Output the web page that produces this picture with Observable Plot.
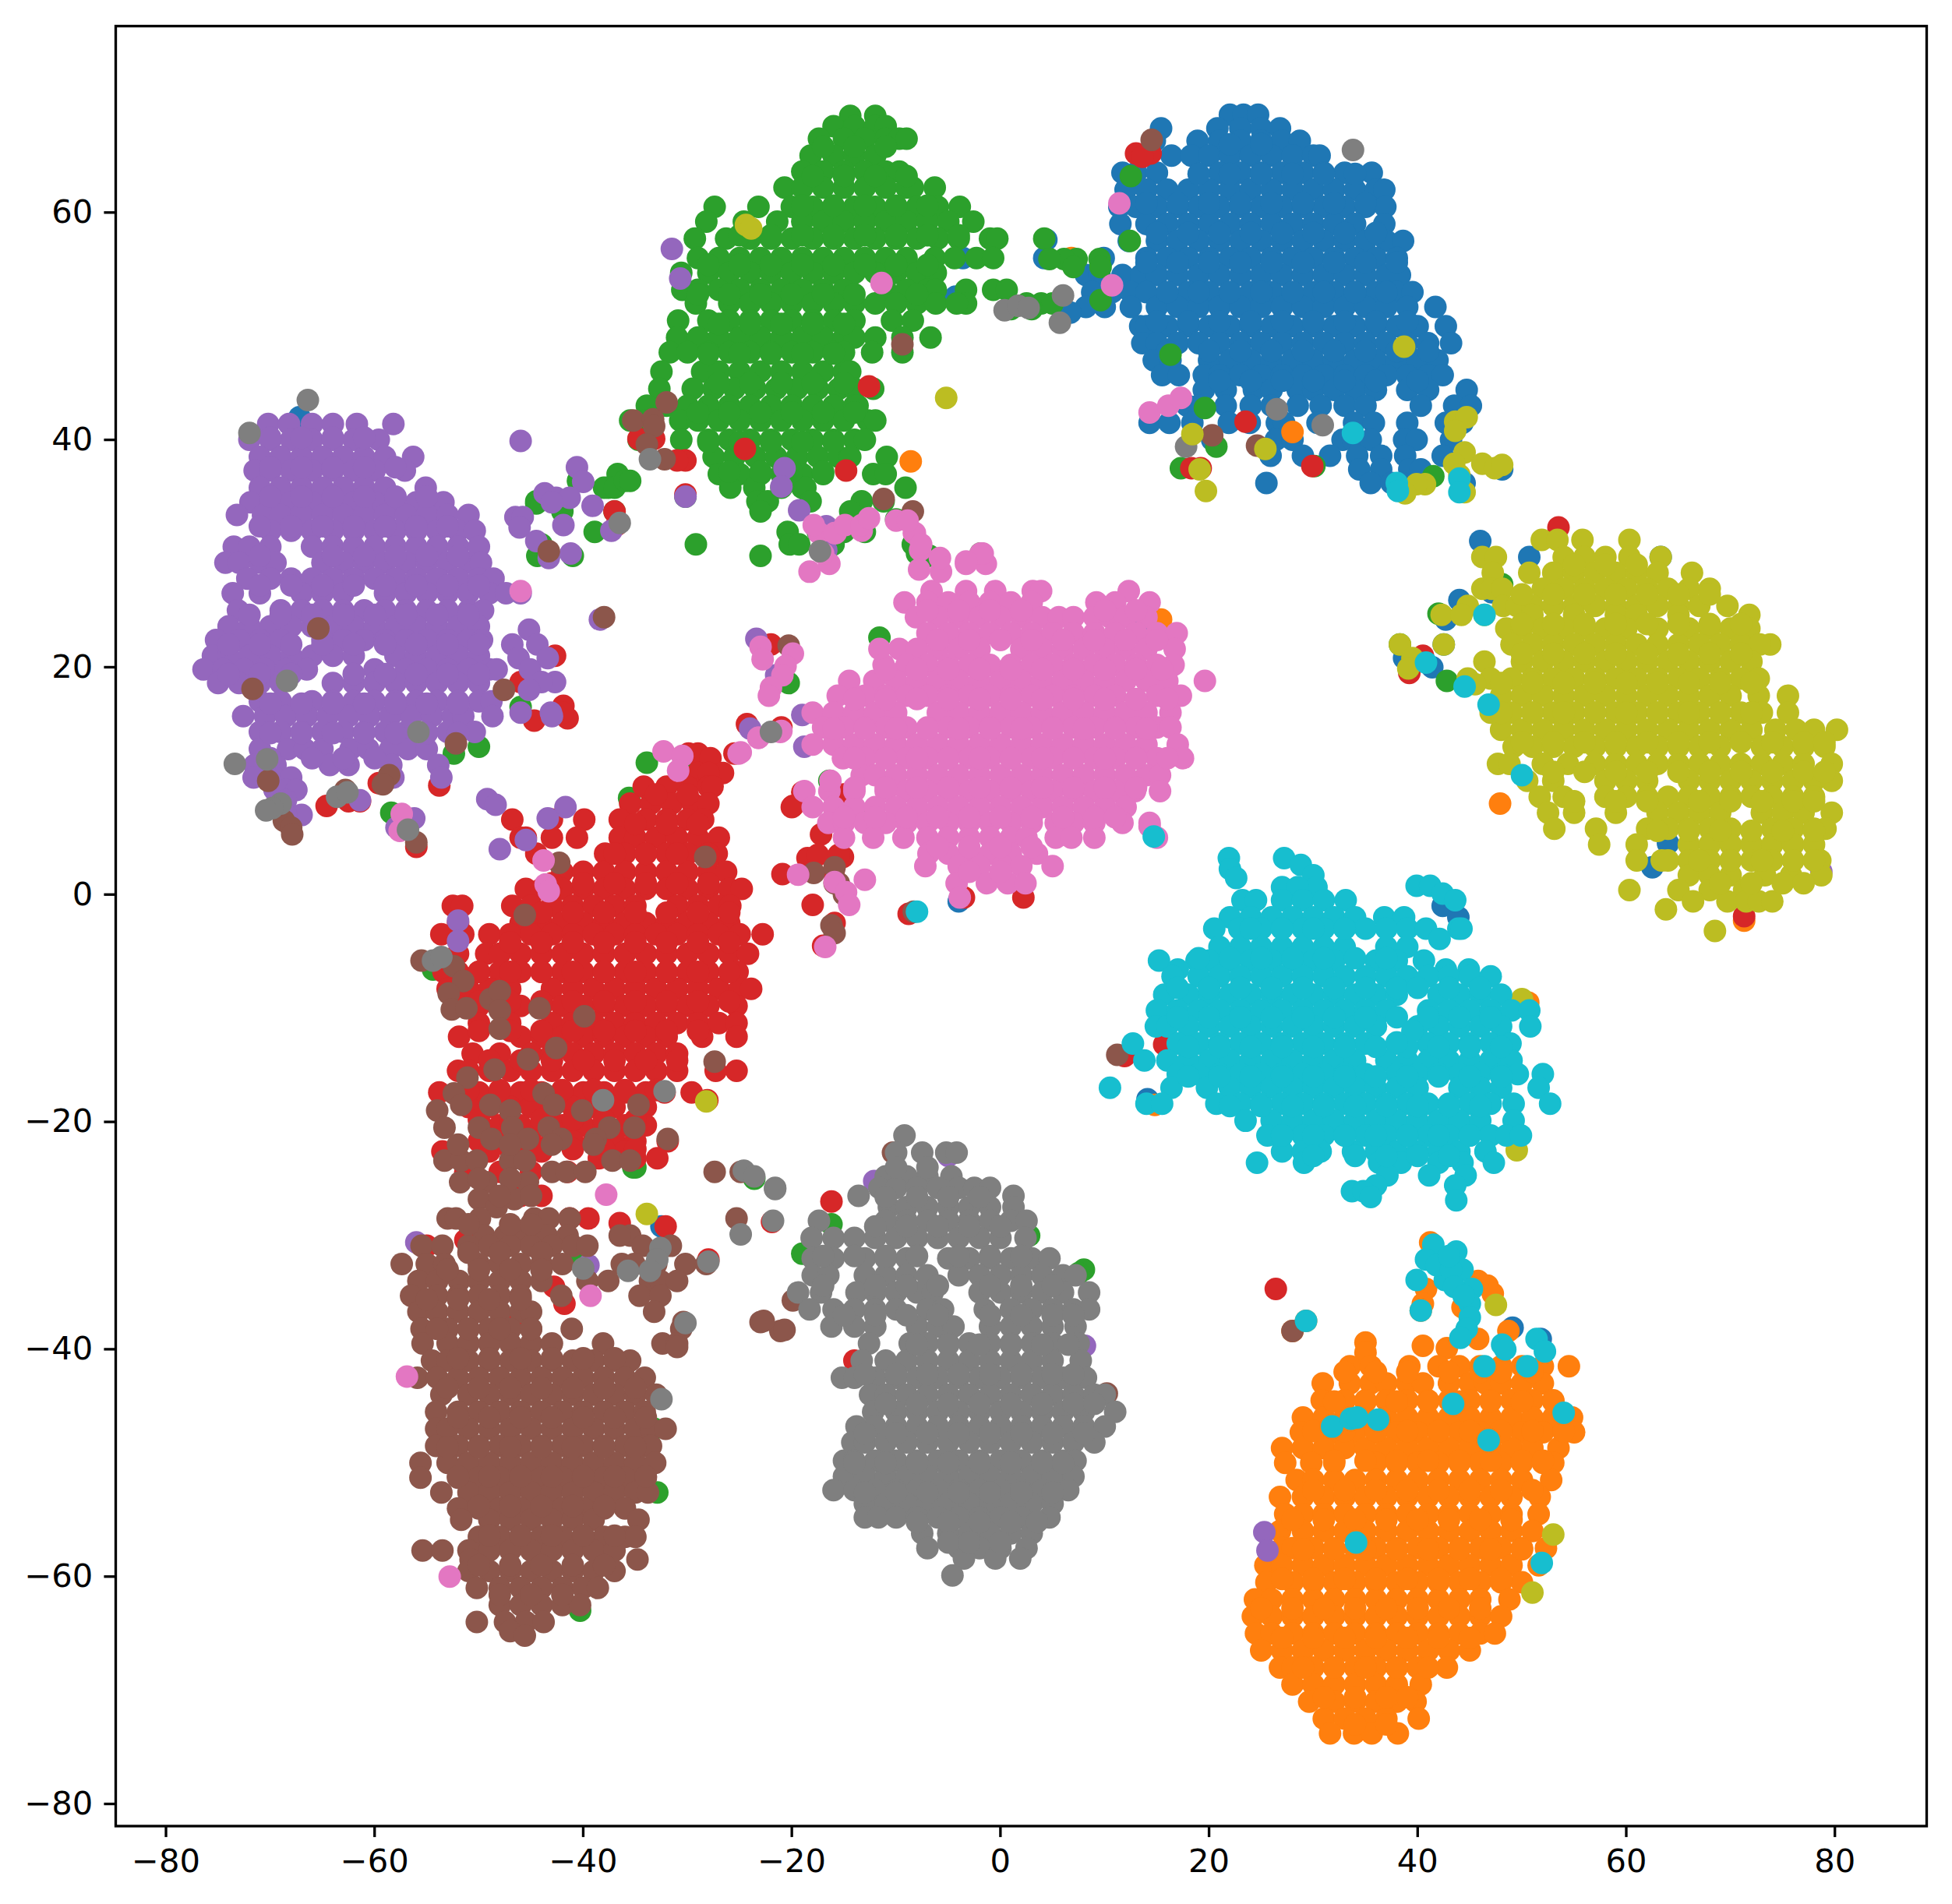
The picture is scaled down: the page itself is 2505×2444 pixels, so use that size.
<!DOCTYPE html>
<html>
<head>
<meta charset="utf-8">
<script src="https://cdn.jsdelivr.net/npm/d3@7"></script>
<script src="https://cdn.jsdelivr.net/npm/@observablehq/plot@0.6"></script>
<style>html,body{margin:0;padding:0;background:#fff}svg{display:block}</style>
</head>
<body>
<div id="chart"></div>
<script>
const classNames = ["c0","c1","c2","c3","c4","c5","c6","c7","c8","c9"];
const tab10 = ["#1f77b4","#ff7f0e","#2ca02c","#d62728","#9467bd","#8c564b","#e377c2","#7f7f7f","#bcbd22","#17becf"];
const xTicks = [-80,-60,-40,-20,0,20,40,60,80];
const yTicks = [-80,-60,-40,-20,0,20,40,60];

// rows: [y, [x, x, ...]]
const c0Rows = [
[68.6,[22,23.3,24.7]],
[67.4,[15.4,20.8,23,25,26.8]],
[66.3,[14.8,18.9,21,23,25,27,28.7]],
[65,[16.4,18.3,20,22,24,26,28,30,30.6]],
[63.5,[11.7,13,15,21,23,25,27,29,31,33,35.6]],
[62,[12,14,16,18,20,22,24,26,28,30,32,34,36,36.8]],
[60.5,[11.4,13,15,17,19,21,23,25,27,29,31,33,35,36.9]],
[59,[11.5,14,16,18,20,22,24,26,28,30,32,34,36.8]],
[57.5,[12.3,15,17,19,21,23,25,27,29,31,33,35,37,38.6]],
[56,[9.9,14,16,18,20,22,24,26,28,30,32,34,36,38]],
[54.5,[8.2,9.5,11.7,13.5,15,17,19,21,23,25,27,29,31,33,35,37,38.3]],
[53,[8.8,10.7,12.5,14,18,20,22,24,26,28,30,32,34,36,38,39.5]],
[51.7,[8.2,10,12.5,15,17,19,21,23,25,27,29,31,33,35,37,39,41.7]],
[50,[13.4,14,16,18,20,22,24,26,28,30,32,34,36,38,40,42.7]],
[48.5,[13.6,15,17,19,21,23,25,27,29,31,33,35,37,39,41,43.2]],
[47,[14.7,16.3,20,22,24,26,28,30,32,34,36,38,40,41.9]],
[45.7,[15.5,17.1,19.5,21,23,25,27,29,31,33,35,37,39,41,42.4]],
[44.4,[19.5,21.6,24.3,26,28.5,30,32,34,36,39,41,44.7]],
[43,[17.9,19,21.6,24,26,28.5,30.7,33,35,40.3,43.5,45.1]],
[41.5,[14.3,16.2,18.4,21.9,23.9,26.5,27.2,30.4,33.9,35.8,39,42.7,44.3]],
[40,[20.3,26.4,28,32.8,33.8,35.5,38.7,39.9,43.2]],
[38.6,[25.9,29,31.6,34.2,36.5,38.8,42.4]],
[37.4,[34.4,36.5,39.2,40.3,48.1]],
[36.2,[25.5,35.5,37.5,38.5,44.5]],
[31.1,[46]],[29.7,[50.7,63.3]],[26.6,[47.1]],[25.9,[44]],[24.2,[42.7]],[20.8,[38.7]],[20,[41.4]],[22,[42.5]],
[18.5,[44.6]],[2.4,[62.5]],[4.5,[64]],[-1,[42.4]],[-2,[43.9]],[-0.6,[-4]],[-18,[14.1]],[-38.1,[49.1]],[-39.1,[51.8]],
[-22.6,[-35.5]],[-29.2,[-32.5]],[42,[-67.2]],[23.5,[13.5]],[56,[-3.6,4.2]],[52.6,[-4.3]],[51.2,[6.7]],[57.6,[4.4]]
];
const c0Fill = [
[66,[22,25]],[63.4,[19,22,25,28,31,34]],[60.8,[14,17,20,23,26,29,32,35]],[58.2,[15,18,21,24,27,30,33,36]],
[55.6,[14,17,20,23,26,29,32,35,38]],[53,[16,19,22,25,28,31,34,37]],[50.4,[15,18,21,24,27,30,33,36,39]],
[47.8,[16,20,23,26,29,32,35,38,41]],[45.2,[21,24,27,30,33,36,40]]
];
const c1Rows = [
[-30.6,[41.2]],[-34.7,[40.8]],[-34.4,[46.7]],[-35.1,[47.2]],[-34,[45.8]],[-36.3,[44.3]],[-36.6,[40.3]],[-36,[40.5]],
[-38.4,[28,48.7]],[-37.5,[29.3]],[-39.1,[45.8]],[-39.4,[35]],[-39.7,[40.5]],[-39.9,[42.8]],[-40.3,[35]],
[-41.5,[33.5,35.5,39.2,42,44,46,48,50,52,54.5]],
[-43,[30.9,33.5,35.5,37,39,40.5,43,45,46.5,48,50,52]],
[-44.5,[30.8,33,35,37,39,41,43,45,47,49,51,53]],
[-46,[29,31,33,35,37,39,41,43,45,47,49,51,53,54.8]],
[-47.3,[28.8,30.9,32,34,36,38,40,42,44,46,48,50,52,54,55]],
[-48.7,[27,29,31,33,35,37,39,41,43,45,47,49,51,53.5]],
[-50,[27.3,29.8,32,36,38,40,42,44,46,48,50,52,53]],
[-51.5,[28.4,30,32,34,36,38,40,42,44,46,48,50,52.8]],
[-53,[26.8,29,31,33,35,37,39,41,43,45,47,49,51.7]],
[-54.5,[27.3,29,31,33,35,37,39,41,43,45,47,49,51.6]],
[-56,[26.8,29,31,33,35,37,39,41,43,45,47,49,51]],
[-57.5,[27,28,30,32,34,36,38,40,42,44,46,48,50,52.3]],
[-59,[25.4,27,29,31,33,35,37,39,41,43,45,47,49,51.6]],
[-60.5,[25.5,28,30,32,34,36,38,40,42,44,46,48,50]],
[-62,[24.4,26,28,30,32,34,36,38,40,42,44,46,48.8]],
[-63.5,[24.2,26,28,30,32,34,36,38,40,42,44,46,48]],
[-65,[24.5,26,28,30,32,34,36,38,40,42,44,46,47.4]],
[-66.5,[25,27,29,31,33,35,37,39,41,43,45]],
[-68,[26.8,28,30,32,34,36,38,40,42.8]],
[-69.5,[28,30,32,34,36,38,40.3]],
[-71,[29.6,32,34,36,38,39.8]],
[-72.5,[31,33,35,37,40.1]],
[-73.8,[31.6,33.9,35.6,38.1]],
[24.2,[15.4]],[8,[47.9]],[-2.3,[71.3]],[-18.5,[14.8]],[40.7,[28]],[38.1,[-8.6]],[56,[6.8]],[-9.5,[50.6]]
];
const c1Fill = [
[-42,[33,36,39,43,46,48,51]],[-44.6,[32,35,38,41,44,47,50,53]],[-47.2,[30,33,36,39,42,45,48,51,54]],
[-49.8,[32,35,38,41,44,47,50,52]],[-52.4,[30,33,36,39,42,45,48,51]],[-55,[28,31,34,37,40,43,46,49]],
[-57.6,[29,32,35,38,41,44,47,50]],[-60.2,[27,30,33,36,39,42,45,48]],[-62.8,[25,28,31,34,37,40,43,46]],
[-65.4,[27,30,33,36,39,42,45]],[-68,[29,32,35,38,41]],[-70.6,[31,34,37,39]],[-73,[34,37]]
];
const c2Rows = [
[68.5,[-14.4,-12]],
[67.6,[-16,-14,-12,-11]],
[66.5,[-17.4,-15,-13,-11,-9.7,-9]],
[65,[-18.2,-16,-14,-12]],
[63.6,[-19,-17,-15,-13,-11,-9.7]],
[62.2,[-20.7,-19,-17,-15,-13,-11,-9,-8.4,-6.3]],
[60.5,[-27.4,-23.2,-20,-18,-16,-14,-12,-10,-8,-6,-3.9]],
[59.2,[-28.2,-24.6,-21.4,-19,-17,-15,-13,-11,-9,-7,-5,-2.6]],
[57.7,[-29.3,-26.3,-24,-22,-20,-18,-16,-14,-12,-10,-8,-6,-4,-1,-0.3,4.2]],
[56,[-29,-27,-25,-23,-21,-19,-17,-15,-13,-11,-9,-6.3,-4.4,-2.3,-0.7]],
[54.7,[-30.6,-28,-26,-24,-22,-20,-18,-16,-14,-12,-10,-8,-6.2]],
[53.2,[-30.5,-29,-27,-25,-23,-21,-19,-17,-15,-11,-9,-7,-6.2,-3.3,-0.7,0.6]],
[52,[-29.2,-26,-24,-22,-20,-18,-16,-14,-12,-10,-8,-6.2,-3.3,-4.2,3.9,2.5,5]],
[50.5,[-30.9,-28,-26,-24,-22,-20,-18,-16,-14,-10.4,-8.4]],
[49,[-31,-29,-27,-25,-23,-21,-19,-17,-15,-14,-12,-9.4,-6.7]],
[47.7,[-31.7,-30,-28,-26,-24,-22,-20,-18,-16,-15,-12.3,-9.4]],
[46,[-32.5,-28.6,-27,-25,-23,-21,-19,-17,-15,-14.4]],
[44.5,[-32.7,-29.5,-27.5,-25.5,-23.5,-21.5,-19.5,-17.5,-15.5,-14,-12.2]],
[43,[-33.9,-32,-30,-28,-26,-24,-22,-20,-18,-16,-14,-13.7]],
[41.7,[-35.5,-34,-30.7,-29,-27,-25,-23,-21,-19,-17,-15,-12.7,-12]],
[40,[-34.7,-30.6,-28,-26,-24,-22,-20,-18,-16,-14,-13]],
[38.5,[-27.5,-25.5,-23.5,-21.5,-19.5,-17.5,-15.5,-14.4,-10.9]],
[37,[-27,-25,-23,-21,-19,-17,-12.2,-11,-36.7]],
[35.8,[-37.6,-25.9,-23.6,-21,-19,-18.7,-9.1,-38,-37]],
[36.4,[-36,-35.5,-40.5]],
[34.6,[-23.3,-22.3,-18.2,-13.3,-11.2,-44.5]],
[33.7,[-23,-14.4,-37,-42]],
[33,[-10,-46]],
[31.9,[-20.4,-13,-38.9,-17.5,-15]],
[30.8,[-20.2,-19.3,-29.2,-44,-16,-8.4]],
[29.8,[-44.4,-43.3,-41,-23,-6.8]],
[30,[-1.9,-8]],
[34.4,[-44.5]],[30.5,[-16.5]],[35,[-30.2]],
[63.2,[12.5]],[57.5,[12.4]],[47.5,[16.3]],[42.8,[19.6]],[39.4,[20.7]],[37.7,[30.1]],[36.8,[41.5]],[37.5,[17.3]],
[55.9,[9.5,7.3,6.1,4.7]],[55.2,[9.6,7]],[52.3,[9.6]],[51.5,[1,3]],
[27.3,[48.1]],[22,[38.3]],[24.7,[42]],[18.8,[42.8]],
[-33,[8]],[-30,[2.75]],[-31.6,[-19]],[-29,[-16.2]],[-33.3,[7.5]],
[-24,[-35.2]],[-25,[-23.6]],[-32,[-40.8]],[-52.6,[-32.9]],[-63,[-40.3]],[-47,[-33.2]],
[22.6,[-11.6]],[10,[-16.4]],[18.6,[-20.3]],[7,[-12.3]],
[11.6,[-33.9]],[8.5,[-35.6]],[11.5,[-30]],[4,[-28.5]],[10,[-28]],[-6.6,[-54.4]],
[12.4,[-52.4]],[13,[-50]],[16.5,[-46]],[9.7,[-68]],[7.2,[-58.4]],[-24,[-35]]
];
const c2Fill = [
[65.8,[-17,-14,-11]],[63.2,[-18,-15,-12,-9]],[60.6,[-19,-16,-13,-10,-7]],[58,[-25,-22,-19,-16,-13,-10,-7,-4]],
[55.4,[-28,-25,-22,-19,-16,-13,-10,-7]],[52.8,[-29,-26,-23,-20,-17,-14,-8]],[50.2,[-27,-24,-21,-18,-15]],
[47.6,[-28,-25,-22,-19,-16]],[45,[-27,-24,-21,-18,-15]],[42.4,[-29,-26,-23,-20,-17,-14]],
[39.8,[-28,-25,-22,-19,-16]],[37.2,[-26,-23,-20,-17]]
];
const c3Rows = [
[12.4,[-29.9,-29,-25.5]],[12,[-27.8]],
[10.7,[-29,-26.6,-28]],
[9.5,[-34.2,-32,-30,-28,-27.6]],
[8,[-35.5,-33.5,-31.5,-29.5,-28]],
[6.6,[-39.9,-36.5,-34,-32,-30,-28.5,-43,-46.8]],
[5,[-43,-46,-40.6,-36.5,-35,-33,-31,-29,-27,-45.5]],
[3.6,[-44.5,-37.9,-36,-34,-32,-30,-28,-27.2]],
[2,[-42,-40,-38,-36,-34,-32,-30,-28,-26.3]],
[0.5,[-45.5,-44,-42,-40,-38,-36,-34,-32,-30,-28,-26,-24.8]],
[-1,[-52.5,-51.6,-46.8,-45,-43,-41,-39,-37,-35,-31,-29,-27,-25.9]],
[-2.5,[-52,-46,-44,-42,-40,-38,-36,-34,-32,-30,-28,-26]],
[-3.5,[-53.6,-51.5,-49,-47,-45,-43,-41,-39,-37,-35,-33,-31,-29,-27,-25,-22.8]],
[-5.2,[-49.3,-48,-46,-44,-42,-40,-38,-36,-34,-32,-30,-28,-26,-24.2,-52]],
[-6.8,[-53.4,-52,-50,-48,-46,-44,-42,-40,-38,-36,-34,-32,-30,-28,-25.2]],
[-8.3,[-53,-51,-49,-47,-43,-41,-39,-37,-35,-33,-31,-29,-27,-25,-23.9]],
[-9.8,[-52,-50,-48,-46,-44,-42,-40,-38,-36,-34,-32,-30,-28,-25.3]],
[-11.3,[-50,-47,-43,-41,-39,-37,-35,-33,-31,-29,-27,-25.3]],
[-12.5,[-51.9,-46,-44,-42,-40,-38,-36,-34,-32,-28.6,-25.3]],
[-14,[-50.6,-48,-45,-43,-41,-39,-37,-35,-33,-31]],
[-15.5,[-52,-51,-49,-47,-45,-43,-41,-39,-37,-35,-33,-31,-25.3,-27.3]],
[-17.4,[-53.8,-50,-48,-46,-44,-42,-40,-38,-36,-34,-32.2,-29.6]],
[-18.7,[-51,-49,-47,-45,-43,-41,-39,-37,-34]],
[-20.3,[-48,-46,-44,-42,-40,-38,-36,-34]],
[-21.7,[-50,-47,-45,-43,-41,-39,-37,-35,-31.9]],
[-22.6,[-53.5,-49,-46,-44,-38,-36]],
[-23.2,[-32.9,-35,-38.5]],
[-24.4,[-51.3,-48,-45,-41.5]],
[-26.5,[-44,-46]],[-28.5,[-41.3,-39.5]],[-28.9,[-36.5]],[-29.2,[-32.1]],[-30.4,[-51.3,-47,-44]],
[-30.9,[-55]],[-37.6,[-46.7]],[-36,[-41.8]],[-34.5,[-42.8]],[-18.1,[-28.1]],[-32.1,[-28]],
[-27,[-16.2]],[-28.8,[-21.9]],[-41,[-14]],[-34.7,[26.4]],
[65.2,[13,14.4]],[64.9,[13.6]],[41.6,[23.5]],[37.7,[29.9]],[37.5,[18.3,19.2]],
[44.7,[-12.6]],[39.2,[-24.5]],[37.3,[-14.8]],[40.1,[-34.7,-33.2]],[38.2,[-30.2,-31]],[35.2,[-30.2]],[33.7,[-37]],
[32.3,[53.5]],[19.5,[39.2]],[21,[40.5]],[-1.9,[71.3]],
[7.8,[-64.6]],[8.2,[-61.4,-62.5]],[9.6,[-53.8]],[18.7,[-46]],[21,[-42.7]],[15.3,[-44.7]],[16.6,[-41.9]],[15.5,[-41.5]],[9.8,[-59.6]],[16,[-42]],[4.2,[-56]],
[7.7,[-20]],[5.3,[-17.2]],[9,[-19]],[8.8,[-15]],[-0.25,[2.2,-3.5]],[7.8,[-19.9]],
[1.8,[-20.9]],[3.2,[-18.5]],[3.3,[-15.1]],[2,[-18,-16]],[-0.9,[-18]],[-2.5,[-15.9]],[-4.5,[-17]],[3.5,[-17.5,-15.5]],
[-13.2,[15.7]],[-14.2,[11.9]],[-1.7,[-8.8]],
[32.5,[-36.8]],[15,[-24.3]],[14.7,[-21]],[22,[-22]]
];
const c3Fill = [
[8.8,[-33,-30]],[6.2,[-35,-32,-29]],[3.6,[-37,-34,-31,-28]],[1,[-43,-40,-37,-34,-31,-28]],
[-1.6,[-44,-41,-38,-35,-32,-29,-26]],[-4.2,[-47,-44,-41,-38,-35,-32,-29,-26]],
[-6.8,[-50,-47,-44,-41,-38,-35,-32,-29,-26]],[-9.4,[-50,-47,-44,-41,-38,-35,-32,-29,-26]],
[-12,[-50,-47,-44,-41,-38,-35,-32,-29]],[-14.6,[-49,-46,-43,-40,-37,-34,-31]],
[-17.2,[-51,-48,-45,-42,-39,-36,-33]],[-19.8,[-50,-47,-44,-41,-38,-35]],[-22.4,[-47,-44,-41,-38,-35]]
];
const c4Rows = [
[41.4,[-70.2,-68.2,-66,-64,-61.7,-58.2]],
[40,[-72,-70,-68,-66,-64,-62,-59.6]],
[38.5,[-71,-69,-67,-65,-63,-61,-59,-56.3]],
[37.3,[-71.5,-70,-68,-66,-64,-62,-60,-57.1]],
[35.8,[-71,-69,-67,-65,-63,-61,-59,-55.1]],
[34.5,[-71.9,-70,-68,-66,-64,-62,-60,-58,-56,-53.4]],
[33.4,[-73.2,-70.7,-69,-67,-65,-63,-61,-59,-57,-55,-53,-51]],
[32,[-70,-68,-66,-64,-62,-60,-58,-56,-54,-52,-50.4]],
[30.6,[-73.5,-72,-70,-66,-64,-62,-60,-58,-56,-54,-52,-50]],
[29.2,[-74.3,-73,-71,-69.5,-65,-63,-61,-59,-57,-55,-53,-51,-49.8]],
[27.8,[-72.2,-70,-68,-66,-64,-62,-60,-58,-56,-54,-52,-50,-48.6]],
[26.5,[-73.6,-71,-67,-65,-63,-59,-57,-55,-53,-51,-49,-47.4,-46]],
[25,[-73.1,-69,-67,-65,-63,-61,-59,-57,-55,-53,-51,-49.6]],
[23.6,[-74,-72,-70,-68,-66,-64,-62,-60,-58,-56,-54,-52,-50]],
[22.4,[-75.2,-73,-71,-69,-65,-63,-61,-59,-57,-55,-53,-51,-49.7]],
[21,[-75.5,-74,-72,-70,-68,-66,-64,-62,-58,-56,-54,-52,-50]],
[19.8,[-76.4,-74.5,-72.5,-70.5,-68.5,-66.5,-60,-57,-55,-53,-51,-49,-48.3]],
[18.6,[-75,-73,-71,-69,-64,-62,-60,-58,-56,-54,-52,-50]],
[17,[-71,-69,-66,-64,-62,-60,-58,-56,-54,-52,-50,-48.8]],
[15.7,[-72.6,-70.5,-68.5,-66.5,-64.5,-62.5,-60.5,-58.5,-56.5,-54.5,-52.5,-51.5,-48.7]],
[14.3,[-71,-69,-67,-65,-63,-61,-59,-57,-55,-53,-50.4]],
[12.8,[-71,-68.3,-66.7,-65,-62.3,-60.6,-58.5,-56.8,-55]],
[11.4,[-71.5,-69.5,-64.3,-62.5,-58.4,-53.9]],
[10.3,[-71.6,-69.6,-68,-53.6,-58.2]],
[9.2,[-69.6,-68.5,-67.5]],
[8.3,[-68.5,-61.4]],
[7,[-67,-68.5]],
[39.9,[-46]],[37.6,[-40.6]],[36.3,[-40]],[35.3,[-43.7]],[34.9,[-42.6,-41.3]],[34.2,[-39.1]],[33.2,[-46.5,-45.8]],[32.3,[-46.1]],
[32.5,[-41.9]],[31.1,[-44.5]],[29.6,[-43.3]],[30,[-41.2]],[34.5,[-43]],
[24.2,[-38.4]],[32,[-37.3]],
[23.3,[-45.2]],[22,[-46.8,-44.4]],[20.8,[-46.2,-43.4]],[19.8,[-45.1]],[18.7,[-42.7,-44]],[18,[-45.2]],[16,[-46,-43.1]],[15.7,[-43]],
[56.8,[-31.5]],[54.2,[-30.7]],[35,[-30.2]],[37.5,[-20.7]],[35.9,[-21]],[33.8,[-19.3]],[32.4,[-16.7]],[30.3,[-16.7]],
[8.4,[-49.2]],[7.9,[-48.4]],[7.7,[-41.7]],[6.7,[-43.4]],[4.8,[-45.5]],[4,[-48]],[-2.3,[-52]],[-4.1,[-52]],
[14.6,[-24]],[15.8,[-19]],[13,[-18.8]],[22.5,[-23.4]],[19.3,[-21.5]],
[6.7,[-56.2]],[5.9,[-57.9]],[-25.2,[-12.1]],[-23,[-5]],[-56.1,[25.3]],[-57.7,[25.6]],[-30.6,[-56]],[-32.6,[-39.5]],[-39.7,[8.1]],[2,[78.7]]
];
const c4Fill = [
[40.2,[-70,-67,-64,-61]],[37.6,[-70,-67,-64,-61,-58]],[35,[-70,-67,-64,-61,-58,-55]],
[32.4,[-71,-68,-65,-62,-59,-56,-53]],[29.8,[-71,-64,-61,-58,-55,-52]],[27.2,[-71,-68,-65,-62,-59,-56,-53,-50]],
[24.6,[-72,-69,-66,-63,-60,-57,-54,-51]],[22,[-74,-71,-68,-65,-62,-59,-56,-53,-50]],
[19.4,[-74,-71,-68,-62,-59,-56,-53,-50]],[16.8,[-70,-67,-64,-61,-58,-55,-52]],[14.2,[-70,-67,-64,-61,-58,-55,-52]],
[12,[-70,-66,-63,-60]]
];
const c5Rows = [
[-13.5,[-42.6]],[-14.5,[-45.3]],[-15.4,[-48.5]],[-16.1,[-51.1]],[-14.7,[-27.4]],
[-17.5,[-43.8,-52.4]],[-18.5,[-51.7,-48.9,-42.8,-34.7]],[-19,[-54,-47,-40.1]],
[-20.5,[-43.3,-37.5,-35.1,-53.3,-50,-46.8]],[-21.5,[-48.8,-45.3,-42.1,-38.8,-31.9]],
[-23.4,[-53.3,-51.7,-50.2,-47,-45.6,-37.2,-35.5]],[-24.4,[-43,-41.6,-39.8,-27.4,-24.9]],
[-25.3,[-49.3,-51.8,-45.3]],[-26.8,[-50,-46.6]],[-27.5,[-48.3]],
[-28.5,[-53,-52.2,-49.9,-44.7,-43.3,-41.3,-25.3]],
[-30,[-49.5,-47.5,-45.5,-35.5,-36.5,-43.5,-41.5]],
[-30.9,[-55.5,-53.5,-51,-49,-47,-45,-43,-41,-39.6,-34.3,-31.6]],
[-32.5,[-57.4,-55,-53.3,-50,-48,-46,-44,-42,-36.3,-35.1,-33,-30.2,-28.2]],
[-34,[-55.8,-54,-51.9,-50,-48,-46,-44,-39.6,-37.6,-33.6,-32.6,-31]],
[-35.3,[-56.5,-54,-52,-50,-48,-46,-42.1,-34.6,-32.6]],
[-36.7,[-55.8,-54,-52,-50,-48,-46,-45,-33.2]],
[-38.2,[-55.5,-53,-51,-49,-47,-45,-41.1,-30.6]],
[-39.5,[-55.4,-53,-51,-49,-47,-45,-43,-32.4,-31,-38.1]],
[-41,[-54.5,-53,-51,-49,-47,-45,-43,-41,-39,-37,-35.5]],
[-42.5,[-55.9,-54,-52,-50,-48,-46,-44,-42,-40,-38,-36,-34.1]],
[-44,[-53.6,-51,-49,-47,-45,-43,-41,-39,-37,-35,-33]],
[-45.5,[-54.1,-52,-50,-48,-46,-44,-42,-40,-38,-36,-34.1]],
[-47,[-54.1,-53,-51,-49,-47,-45,-43,-41,-39,-37,-35,-33.5,-32.1]],
[-48.5,[-54.1,-52,-50,-48,-46,-44,-42,-40,-38,-36,-34,-33.5]],
[-50,[-55.6,-53,-51,-49,-47,-45,-43,-41,-39,-37,-35,-33.1]],
[-51.3,[-55.6,-52,-50,-48,-46,-44,-42,-40,-38,-36,-34]],
[-52.6,[-53.6,-51,-49,-47,-45,-43,-41,-39,-37,-35,-33.8]],
[-54,[-52,-50,-48,-46,-44,-42,-40,-38,-36]],
[-55,[-51.7,-49,-47,-45,-43,-41,-39,-34.7]],
[-56.5,[-50,-48,-46,-44,-42,-40,-38,-36,-35]],
[-57.7,[-55.4,-53.5,-51,-49,-47,-45,-43,-41,-39,-37]],
[-58.5,[-34.8,-50.8]],
[-59.5,[-51,-49,-47,-45,-43,-41,-39,-37]],
[-61,[-50.2,-48,-46,-44,-42,-40,-38.6]],
[-62.5,[-48,-46,-44,-42,-40.3]],
[-64,[-50.2,-47.5,-45.5,-43.8]],
[-64.8,[-47]],[-65.2,[-45.6]],
[-37.6,[-30.4,-23]],[-38.4,[-21.1]],[-39.8,[-31]],
[23.4,[-65.4]],[18.1,[-71.7]],[13.3,[-52.2]],[18,[-47.6]],[30.2,[-43.3]],[24.4,[-38]],[10.5,[-58.6]],[9.7,[-59.2]],[10,[-70.2]],[9.2,[-62.8]],
[6.5,[-68.7]],[5.9,[-68]],[5.3,[-67.9]],[4.6,[-56]],
[66.4,[14.5]],[40.4,[20.3]],[39.5,[24.6]],
[48.4,[-9.4]],[43.3,[-32]],[41.7,[-35.2]],[41.8,[-33.3]],[41.2,[-33.2]],[39.6,[-33.9]],[38.3,[-32.2]],[34.8,[-11.2]],[33.7,[-8.4]],
[3.3,[-28.3]],[2.8,[-42.3]],[-1.8,[-45.6]],[-5.8,[-55.5]],[-6.3,[-52.4]],[-7.6,[-51.5]],[-8.7,[-52.9]],[-10.1,[-52.6]],[-10,[-51.2,-44.2]],[-9.2,[-48.9]],[-8.5,[-48]],[-10.2,[-48]],[-11.8,[-48]],[-10.7,[-39.9]],
[1.9,[-17.9]],[2.4,[-15.9]],[1,[-15.9,-15.5]],[0,[-15]],[21.9,[-20.3]],[-2.7,[-16.2]],[-3.4,[-15.9]],
[-35.7,[-19.9]],[-37.5,[-22.7]],[-38.3,[-20.7]],[-43.9,[10.2]],[-22.7,[-10.3]],[-1.5,[-8.3]],[-14.1,[11.2]],[-38.4,[28]]
];
const c5Fill = [
[-22,[-52,-47,-43,-39]],[-25,[-50,-47]],[-26.5,[-48,-45]],[-29,[-51,-47,-45]],[-31.5,[-51,-48,-44]],
[-33,[-53,-50,-47,-44]],[-35.6,[-55,-52,-49,-46]],[-38.2,[-54,-51,-48,-45]],[-40.8,[-52,-49,-46,-43,-40,-37]],
[-43.4,[-53,-50,-47,-44,-41,-38,-35]],[-46,[-52,-49,-46,-43,-40,-37,-34]],[-48.6,[-53,-50,-47,-44,-41,-38,-35]],
[-51.2,[-52,-49,-46,-43,-40,-37,-34]],[-53.8,[-50,-47,-44,-41,-38]],[-56.4,[-49,-46,-43,-40,-37]],
[-59,[-50,-47,-44,-41,-38]],[-61.6,[-48,-45,-42]]
];
const c6Rows = [
[26.7,[-6.6,-3.3,-0.5,3.1,3.9,12.3]],
[25.7,[-9.2,-7,-5,-3,-1,1,3,9.2,11,14.3]],
[24.4,[-8.1,-6,-4,-2,0,2,4,5.6,7,9,10.5,12,14]],
[23,[-7,-5,-3,-1,1,3,5,7,9,11,13,15,16.9]],
[21.6,[-11.6,-9.7,-8,-6,-4,-2,2,4,6,8,10,12,14,16.7]],
[20.2,[-11.2,-9,-7,-5,-3,-1,1,3,5,7,9,11,13,15,16.6]],
[18.8,[-14.5,-12.1,-10,-8,-6,-4,-2,0,2,4,6,8,10,12,14,16,19.6]],
[17.5,[-15.6,-13,-11,-9,-7,-5,-3,-1,1,3,5,7,9,11,15,17.3]],
[16,[-18,-16,-14,-12,-10,-6,-4,-2,0,2,4,6,8,10,12,14,16.3]],
[14.7,[-17,-15,-13,-11,-9,-7,-5,-3,-1,1,3,5,7,9,11,13,15,16.3]],
[13.2,[-18,-16,-14,-12,-10,-8,-6,-4,-2,0,2,4,6,8,10,12,14,17]],
[12,[-15.1,-13,-11,-9,-7,-5,-3,-1,1,3,5,7,9,11,13,15,17.5]],
[10.5,[-13.3,-12,-10,-8,-6,-4,-2,0,2,4,6,8,10,12,14,15.3]],
[9.1,[-18.8,-16.4,-14,-11,-9,-7,-5,-3,-1,1,3,5,7,9,11,12.9,15.3]],
[7.7,[-18,-16,-14,-12,-10,-8,-6,-4,-2,0,2,4,6,8,10,12]],
[6.3,[-16.5,-15,-13,-11,-9,-7,-5,-3,-1,1,3,5.3,7,9,11.7,14.3]],
[5,[-15,-12.2,-9.3,-7,-5,-3,-1,1,2.5,5.3,6.8,9,15]],
[3.6,[-6.9,-5,-3,-1,1,3.5]],
[2.5,[-7.2,-4,-2,0.25,2,5]],
[1,[-4.2,-1.3,0.7,2.4]],[-0.25,[-3.9]],
[28.4,[-18.3,-5.7]],[29.1,[-16.4,-3.3,-1.4]],[30,[-1.7,-17,-1.9]],[31.8,[-15.8,-8.3,-17.4,-15.9,-8.2]],[32,[-13.3]],[30.3,[-7.7]],[28.6,[-7.8]],[29.6,[-5.8]],[29.3,[-3.3]],[30.8,[-7.6]],
[32.5,[-17.9,-14.9,-13.3]],[33.1,[-12.6]],[32.9,[-10,-8.9]],
[21.8,[-23]],[21.2,[-19.9]],[20.7,[-22.8]],[20.1,[-20.6]],[19.3,[-20.9]],[18.2,[-22]],[17.5,[-22.2]],
[14.3,[-21.1]],[13.8,[-23.2]],[12.5,[-24.9]],[1.75,[-19.4]],[1.1,[-15.9]],[0.2,[-14.8]],[-0.9,[-14.5]],[1.3,[-13]],[-4.6,[-16.8]],[6,[14.3]],
[60.8,[11.4]],[53.6,[10.7]],[42.4,[14.3]],[43,[16.1]],[43.7,[17.3]],[53.8,[-11.4]],
[26.7,[-46]],[7.1,[-57.4]],[5.6,[-57.6]],[3,[-43.8]],[0.9,[-43.6]],[0.3,[-43.3]],
[12.6,[-32.3]],[12.2,[-30.5]],[10.9,[-30.9]],[12.4,[-25.1]],[13.8,[-23.2]],[14.4,[-21]],[10,[-16.3]],
[-26.4,[-37.8]],[-35.3,[-39.3]],[-42.4,[-56.9]],[-60,[-52.8]]
];
const c6Fill = [
[25,[-7,-4,-1,2,10,13]],[22.4,[-6,-3,0,3,6,9,12,15]],[19.8,[-11,-8,-5,-2,1,4,7,10,13,15.5]],
[17.2,[-14,-11,-8,-5,-2,1,4,7,10,13,16]],[14.6,[-16,-13,-10,-7,-4,-1,2,5,8,11,14]],
[12,[-14,-11,-8,-5,-2,1,4,7,10,13,16]],[9.4,[-14,-11,-8,-5,-2,1,4,7,10,13]],
[6.8,[-15,-12,-9,-6,-3,0,3,6,9,11]],[4.2,[-6,-3,0,3]],[2,[-3,0]]
];
const c7Rows = [
[-21.2,[-9.2]],
[-22.7,[-10,-7.5,-5.2,-4.2]],
[-24.8,[-11,-9,-7,-4.7]],
[-25.8,[-21.6,-11.6,-10,-8,-6,-4,-2.5,-1]],
[-26.5,[-13.6,1.25]],
[-27.5,[-10.7,-9,-7,-5,-3,-1,1.25]],
[-28.7,[-21.8,-17.4,-11,-9,-7,-5,-3,-1,1,2.5]],
[-30.2,[-18.1,-16,-14,-12,-10,-8,-6,-4,-2,0,2.4]],
[-32,[-18,-16,-13,-11,-9,-5,-3,-1,1,3,4.7]],
[-33.5,[-18,-16.5,-13,-11,-9,-7,-4,-2,0,2,4,6,7.2]],
[-35,[-19.4,-17.2,-13.8,-12,-10,-8,-6.5,-2,0,2,4,6,8.5]],
[-36.5,[-18.3,-16,-14,-12,-10,-7,-5.5,-1.5,1,3,5,7,8.5]],
[-38,[-16.2,-14,-12,-8,-6,-4.5,-1,1,3,5,7.2]],
[-39.5,[-12.6,-8.7,-7,-5,-3,-1,1,3,5,7.5]],
[-41,[-13.3,-11,-9,-7,-5,-3,-1,1,3,5,7.7]],
[-42.5,[-15.2,-14,-12,-10,-8,-6,-4,-2,0,2,4,6,8.2]],
[-44,[-12.5,-11,-9,-7,-5,-3,-1,1,3,5,7,9,10]],
[-45.5,[-12.2,-10,-8,-6,-4,-2,0,2,4,6,8,11]],
[-46.8,[-13.8,-12,-10,-8,-6,-4,-2,0,2,4,6,8,10]],
[-48.2,[-14.2,-13,-11,-9,-7,-5,-3,-1,1,3,5,7,9]],
[-49.8,[-15,-14,-12,-10,-8,-6,-4,-2,0,2,4,6,7.2]],
[-51.2,[-15,-13,-11,-9,-7,-5,-3,-1,1,3,5,7]],
[-52.4,[-16,-14,-12,-10,-8,-6,-4,-2,0,2,4,6.5]],
[-53.6,[-13,-11,-9,-7,-5,-3,-1,1,3,5]],
[-54.8,[-13,-11.7,-10,-8,-6,-4,-2,0,2,4.7]],
[-56.2,[-7.5,-5,-3,-1,1,3]],
[-57.5,[-7,-4,-2,0,2.5]],
[-58.4,[-3.5,-0.5,1.9]],
[-59.9,[-4.6]],
[65.5,[33.8]],[42.7,[26.5]],[41.3,[30.9]],[39.4,[17.8]],
[51.4,[0.4]],[51.8,[1.7]],[51.6,[2.7]],[52.7,[6]],[50.3,[5.7]],[38.3,[-33.6]],[30.2,[-17.3]],[32.7,[-36.5]],
[43.5,[-66.4]],[40.6,[-72]],[18.8,[-68.4]],[11.5,[-73.4]],[11.9,[-70.3]],[14.3,[-55.8]],[8,[-69]],[7.6,[-69.8]],[7.4,[-70.4]],[8.6,[-63.6]],[9,[-62.6]],[5.7,[-56.8]],
[-5.8,[-54.4]],[-5.5,[-53.6]],[-18.1,[-38.1]],[-17.3,[-32.2]],[-24.3,[-24.6]],[-24.8,[-23.6]],[-25.9,[-21.6]],[-29.9,[-24.9]],[-32.3,[-28]],
[-31.1,[-32.6]],[-32.1,[-32.9]],[-33.1,[-33.6,-35.7]],[-32.9,[-40]],[-44.4,[-32.5]],[-37.7,[-30.2]],[14.3,[-22]]
];
const c7Fill = [
[-24,[-10,-7]],[-26.6,[-11,-8,-5,-2]],[-29.2,[-12,-9,-6,-3,0]],[-31.8,[-17,-14,-11,-8,-4,-1,2]],
[-34.4,[-17,-12,-9,-6,-1,2,5]],[-37,[-15,-12,-9,-6,-1,2,5,7]],[-39.6,[-8,-5,-2,1,4,6.5]],
[-42.2,[-13,-10,-7,-4,-1,2,5,7]],[-44.8,[-11,-8,-5,-2,1,4,7,9]],[-47.4,[-13,-10,-7,-4,-1,2,5,8]],
[-50,[-14,-11,-8,-5,-2,1,4,6]],[-52.6,[-13,-10,-7,-4,-1,2,5]],[-55.2,[-8,-5,-2,1,3.5]],[-57,[-5,-3,0]]
];
const c8Rows = [
[31.2,[51.9,53.4,55.8,60.3]],
[29.7,[46.2,47.5,54,56,58,60.3,63.3]],
[28.3,[47.2,50.7,53,55,57,59,61,63,66.3]],
[26.9,[46.2,47.1,48.1,52,54,56,58,60,62,64,66,68]],
[25.4,[44.8,48.2,49.5,51,53,55,57,59,61,63,65,67,69.7]],
[24.6,[42.3,44.2,46.4,51,55,59,61,65,71.8]],
[23.4,[48.5,50,52,54,56,58,60,63,66,68,70,71.8]],
[22,[42.5,38.3,49,51,53,55,57,59,61,63,65,67,69,71,73.8,72.8]],
[20.5,[46.4,50,52,54,56,58,60,62,64,66,68,70,72]],
[19,[44.8,47,49,51,53,55,57,59,61,63,65,67,69,71,72.7]],
[17.5,[48,50,52,54,56,58,60,62,64,66,68,70,72.7,75.5]],
[16,[47,49,51,53,55,57,59,61,63,65,67,69,71,73,75.5]],
[14.5,[48,50,52,54,56,58,60,62,64,66,68,70,72,74.3,76.3,78,80.2]],
[13,[49.2,51,53,55,57,59,61,63,65,67,69,73,75,77,79]],
[11.5,[47.7,48.8,52,54.4,57,59,61,63,65,67,69,71,73,75,77,79.7]],
[10,[50.5,53,58,60,62,66,68,70,72,74,76,78,79.7]],
[8.6,[51.7,54,58,60,62,64,66,68,70,72,74,76,78]],
[7.2,[52.5,55,59,63,65,67,69,73,75,77,79.7]],
[5.8,[53.1,57.1,62,64,66,68,70,74,76,78,79.1]],
[4.4,[57.4,61,66,68,70,72,74,76,78]],
[3,[61,63.4,66,68,70,72,74,76,78.6]],
[1.7,[66,68,70,73.3,75.8,78.7]],
[0.4,[60.3,65,68,71.3]],
[-0.6,[66.4,69.7,71.5,72.7,74]],
[-1.3,[63.8]],[-3.2,[68.5]],
[58.9,[-24.4]],[58.6,[-23.9]],[43.7,[-5.2]],
[48.2,[38.7]],[41.6,[43.6]],[42,[44.7]],[40.8,[43.6]],[38.9,[44.5]],[37.9,[43.5,46.2]],[37.5,[47.4]],[37.8,[48.1]],
[40.5,[18.4]],[39.2,[25.4]],[37.4,[19.1]],[35.5,[19.7]],[36.1,[40.7,39.9]],[35.3,[38.8]],[36.9,[44]],[35.4,[44.5]],
[-28.1,[-33.9]],[-18.2,[-28.2]],[-36.1,[47.5]],[-56.3,[53]],[-61.4,[51]],[-9.2,[50]],[-22.5,[49.5]],
[20.8,[39.5]],[19.9,[39.1]],[18.5,[45.5]]
];
const c8Fill = [
[29,[55,58,61]],[26.4,[50,53,56,59,62,65,68]],[23.8,[50,53,56,59,62,65,68,71]],[21.2,[50,53,56,59,62,65,68,71]],
[18.6,[48,51,54,57,60,63,66,69,72]],[16,[48,51,54,57,60,63,66,69,72]],[13.4,[50,53,56,59,62,65,68,71,74,77,79]],
[10.8,[53,56,59,62,65,68,71,74,77,79]],[8.2,[55,59,62,67,70,73,76,78]],[5.6,[63,66,69,72,75,78]],
[3,[64,67,70,73,76,78]],[1,[69,72,75,77]]
];
const c9Rows = [
[3.2,[21.9,27.2]],[2.6,[28.8]],[2.25,[22]],[1.7,[30]],[1.45,[22.6]],[0.77,[39.9,41.2]],[0.65,[30.3,27,28.5]],[0.08,[42.4]],
[-0.5,[23.2,24.5,27,29,31,33.1,43.6]],
[-2,[22,24,26,28,30,32,34,36.8,38.7]],
[-3,[20.5,22.9,25,27,29,31,33,35,37,39,40.8,43.9,44.2]],
[-3.9,[42.1]],
[-4.6,[21,23,25,27,29,31,33,37,39]],
[-5.8,[15.2,18.8,20,22,24,26,28,30,32,36,38,40.6]],
[-6.6,[17,42.7,44.9]],
[-7.2,[16.5,19,21,23,25,27,29,31,33,35,37,39,41,43,45,47]],
[-8.8,[15.7,18,20,22,24,26,28,30,32,34,36,38,42,44,46,48]],
[-10.2,[15,17,19,21,23,25,27,29,31,33,35,37,41,43,45,47,49,50.7]],
[-11.6,[14.9,16,18,20,22,24,26,28,30,32,34,36,40,42,44,46,48,50.8]],
[-13.1,[12.7,17,19,21,23,25,27,29,31,33,35,38,41,43,45,47,48.9]],
[-14.6,[13.8,16,18,20,22,24,26,28,30,32,34,37,39,41,43,45,47,49]],
[-15.8,[17,19,21,23,25,27,29,31,33,35,38,40,42,44,46,48,49.6,52]],
[-17,[10.5,16.4,19.8,22,24,26,28,30,32,34,36,38,40,44,46,48,51.6]],
[-18.4,[14,15.5,20.7,23,25,27,29,31,33,35,37,39,41,43,45,47,49.2,52.7]],
[-19.9,[23.5,26,28,30,32,34,36,38,40,42,44,46,49.2]],
[-21.2,[25.6,27,29,31,33,35,37,39,41,43,45,47,48.5,49.9]],
[-22.6,[27,29,30.7,33.8,36,38,40,42,44,46.5]],
[-23.6,[29.1,24.6,36.3,38.4,42,44.3,47.3]],
[-24.7,[37.1,41.1,44.6]],[-25.6,[36,43.6]],[-26.1,[33.7,34.8]],[-26.6,[35.5]],[-26.9,[43.7]],
[40.6,[33.8]],[36.2,[38]],[35.5,[38.1]],[36.6,[44]],[35.4,[44]],
[20.4,[40.8]],[18.3,[44.5]],[24.6,[46.4]],[16.7,[46.8]],[10.5,[50]],[5.1,[14.7]],[-1.5,[-8]],
[-30.8,[41.5]],[-31.4,[43.7]],[-32.1,[40.8]],[-33.9,[39.9,42.6]],[-32.6,[41.8]],[-33,[44.3,43.2]],[-34.7,[45.2]],[-34.5,[43.5]],[-36,[45]],[-37.2,[45]],[-38.2,[44.7]],[-39,[44.1]],[-31.8,[43]],[-35.3,[44.4]],
[-36.6,[40.3]],[-39.6,[48.1]],[-40,[48.4]],[-39.1,[51.4]],[-40.2,[52.2]],[-41.5,[46.4,50.5]],[-45.6,[54]],[-44.8,[43.4]],[-48,[46.8]],
[-46.8,[31.8]],[-46.1,[33.6]],[-46,[34.2]],[-46.2,[36.2]],[-57,[34.1]],[-58.8,[51.9]],[-37.5,[29.3]]
];
const c9Fill = [
[-3,[24,27,30,33]],[-5.6,[19,22,25,28,31,34,37]],[-8.2,[17,20,23,26,29,32,35,38,40,43,46]],
[-10.8,[17,20,23,26,29,32,35,38,41,44,47]],[-13.4,[18,21,24,27,30,33,36,39,42,45,48]],
[-16,[18,21,24,27,30,33,36,39,42,45,48]],[-18.6,[22,25,28,31,34,37,40,43,46]],
[-21.2,[27,30,33,36,39,42,45]],[-23,[30,34,37,40,43]],[-12,[39.5]],[-13,[38]]
];

const allRows = [c0Rows,c1Rows,c2Rows,c3Rows,c4Rows,c5Rows,c6Rows,c7Rows,c8Rows,c9Rows];
const allFill = [c0Fill,c1Fill,c2Fill,c3Fill,c4Fill,c5Fill,c6Fill,c7Fill,c8Fill,c9Fill];
const points = allRows.flatMap((rows, i) =>
  rows.concat(allFill[i]).flatMap(([y, xs]) => xs.map(x => ({x, y, c: classNames[i]})))
);

const chart = Plot.plot({
  width: 2505,
  height: 2444,
  marginLeft: 148,
  marginRight: 33,
  marginTop: 33,
  marginBottom: 100.5,
  style: {background: "#fff", fontFamily: "DejaVu Sans", color: "#000"},
  x: {domain: [-84.82, 88.8], label: null},
  y: {domain: [-81.95, 76.4], label: null},
  color: {type: "ordinal", domain: classNames, range: tab10},
  marks: [
    Plot.dot(points, {x: "x", y: "y", fill: "c", r: 14.5, stroke: null}),
    Plot.frame({stroke: "#000", strokeWidth: 3.33}),
    Plot.axisX(xTicks, {tickSize: 14.6, tickPadding: 14.6, fontSize: 41.67, strokeWidth: 3.33, stroke: "#000", label: null}),
    Plot.axisY(yTicks, {tickSize: 14.6, tickPadding: 14.6, fontSize: 41.67, strokeWidth: 3.33, stroke: "#000", label: null})
  ]
});
document.getElementById("chart").appendChild(chart);
</script>
</body>
</html>
